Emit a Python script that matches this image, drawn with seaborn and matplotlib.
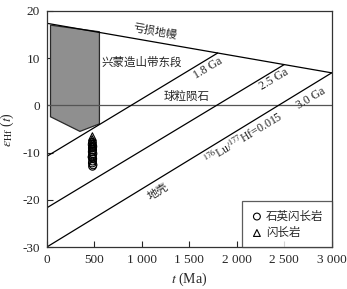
"""Hf isotope evolution diagram (εHf(t) vs t)."""
import pandas as pd
import matplotlib
matplotlib.use("Agg")
import matplotlib.pyplot as plt
import seaborn as sns

# depleted mantle line end points (t in Ma, eps value)
dm_t = [0, 3000]
dm_eps = [17.4, 6.9]

# crustal evolution lines (176Lu/177Hf = 0.015): model age -> eps at t=0
model_ages = [1800, 2500, 3000]
model_labels = ["1.8 Ga", "2.5 Ga", "3.0 Ga"]
crust_eps0 = [-10.8, -21.7, -30.0]

# Xing-Meng orogenic belt, eastern segment field
field_t = [40, 555, 555, 350, 40]
field_eps = [17.0, 15.6, -3.9, -5.5, -2.4]

# samples
qd_t = [482, 478, 486, 480, 484, 479, 487, 481, 477, 485, 483, 480, 488, 482, 479]
qd_eps = [-7.8, -8.3, -8.7, -9.0, -9.4, -9.8, -10.2, -10.5, -10.9,
          -11.3, -11.8, -12.2, -12.6, -12.9, -11.0]
di_t = [481, 479, 484, 482, 480]
di_eps = [-6.6, -7.2, -7.7, -8.1, -8.6]

sns.set_style("ticks")
plt.rcParams["font.family"] = ["Liberation Serif", "Noto Sans CJK SC"]
plt.rcParams["mathtext.fontset"] = "stix"
plt.rcParams["axes.unicode_minus"] = False
cjk = ["Noto Sans CJK SC", "DejaVu Sans"]

fig = plt.figure(figsize=(3.47, 2.89), dpi=100)
ax = fig.add_axes([0.1346, 0.145, 0.8213, 0.817])

# field
ax.fill(field_t, field_eps, facecolor="#8f8f8f", edgecolor="#2a2a2a", lw=0.9, zorder=1)

# depleted mantle
dm = pd.DataFrame({"t": dm_t, "eps": dm_eps})
sns.lineplot(data=dm, x="t", y="eps", color="black", lw=0.9, ax=ax, zorder=2)

# chondrite
ax.axhline(0, color="#555555", lw=0.9, zorder=2)

# crust lines from model age on DM down to t=0
for age, e0 in zip(model_ages, crust_eps0):
    e_dm = dm_eps[0] + (dm_eps[1] - dm_eps[0]) * age / 3000
    cl = pd.DataFrame({"t": [0, age], "eps": [e0, e_dm]})
    sns.lineplot(data=cl, x="t", y="eps", color="black", lw=0.9, ax=ax, zorder=2)

# samples
qd = pd.DataFrame({"t": qd_t, "eps": qd_eps})
di = pd.DataFrame({"t": di_t, "eps": di_eps})
sns.scatterplot(data=qd, x="t", y="eps", marker="o", s=30, color="none",
                edgecolor="black", linewidth=0.8, label="石英闪长岩", ax=ax, zorder=3)
sns.scatterplot(data=di, x="t", y="eps", marker="^", s=30, color="none",
                edgecolor="black", linewidth=0.8, label="闪长岩", ax=ax, zorder=3)

# labels
ax.text(1140, 15.6, "亏损地幔", family=cjk, fontsize=8, rotation=-10,
        ha="center", va="center")
ax.text(1000, 9.2, "兴蒙造山带东段", family=cjk, fontsize=8.3, ha="center", va="center")
ax.text(1470, 1.8, "球粒陨石", family=cjk, fontsize=8.3, ha="center", va="center")
for pos, txt in zip([(1700, 7.9), (2390, 5.6), (2780, 1.6)], model_labels):
    ax.text(pos[0], pos[1], txt, fontsize=8.5, rotation=31, ha="center", va="center")
ax.text(2070, -6.8, r"$^{176}$Lu/$^{177}$Hf=0.015", fontsize=8.5, rotation=31,
        ha="center", va="center")
ax.text(1170, -18.3, "地壳", family=cjk, fontsize=8, rotation=31, ha="center", va="center")

ax.set_xlim(0, 3000)
ax.set_ylim(-30, 20)
ax.set_xticks([0, 500, 1000, 1500, 2000, 2500, 3000])
ax.set_xticklabels(["0", "500", "1 000", "1 500", "2 000", "2 500", "3 000"])
ax.set_yticks([-30, -20, -10, 0, 10, 20])
ax.tick_params(direction="in", length=4, width=0.8, labelsize=9.5, pad=5)
for s in ax.spines.values():
    s.set_linewidth(0.9)
    s.set_color("#333333")

ax.set_xlabel(r"$t$ (Ma)", fontsize=10, labelpad=3)
ax.set_ylabel(r"$\varepsilon_{\rm Hf}$ ($t$)", fontsize=10, labelpad=4)

leg = ax.legend(loc="lower right", prop={"family": cjk, "size": 8.3}, frameon=True,
                fancybox=False, borderaxespad=0, handletextpad=0.2,
                handlelength=1.2, borderpad=0.7, labelspacing=0.3, markerscale=0.9)
leg.get_frame().set_edgecolor("#333333")
leg.get_frame().set_linewidth(0.9)

fig.savefig("out.png", dpi=100)
